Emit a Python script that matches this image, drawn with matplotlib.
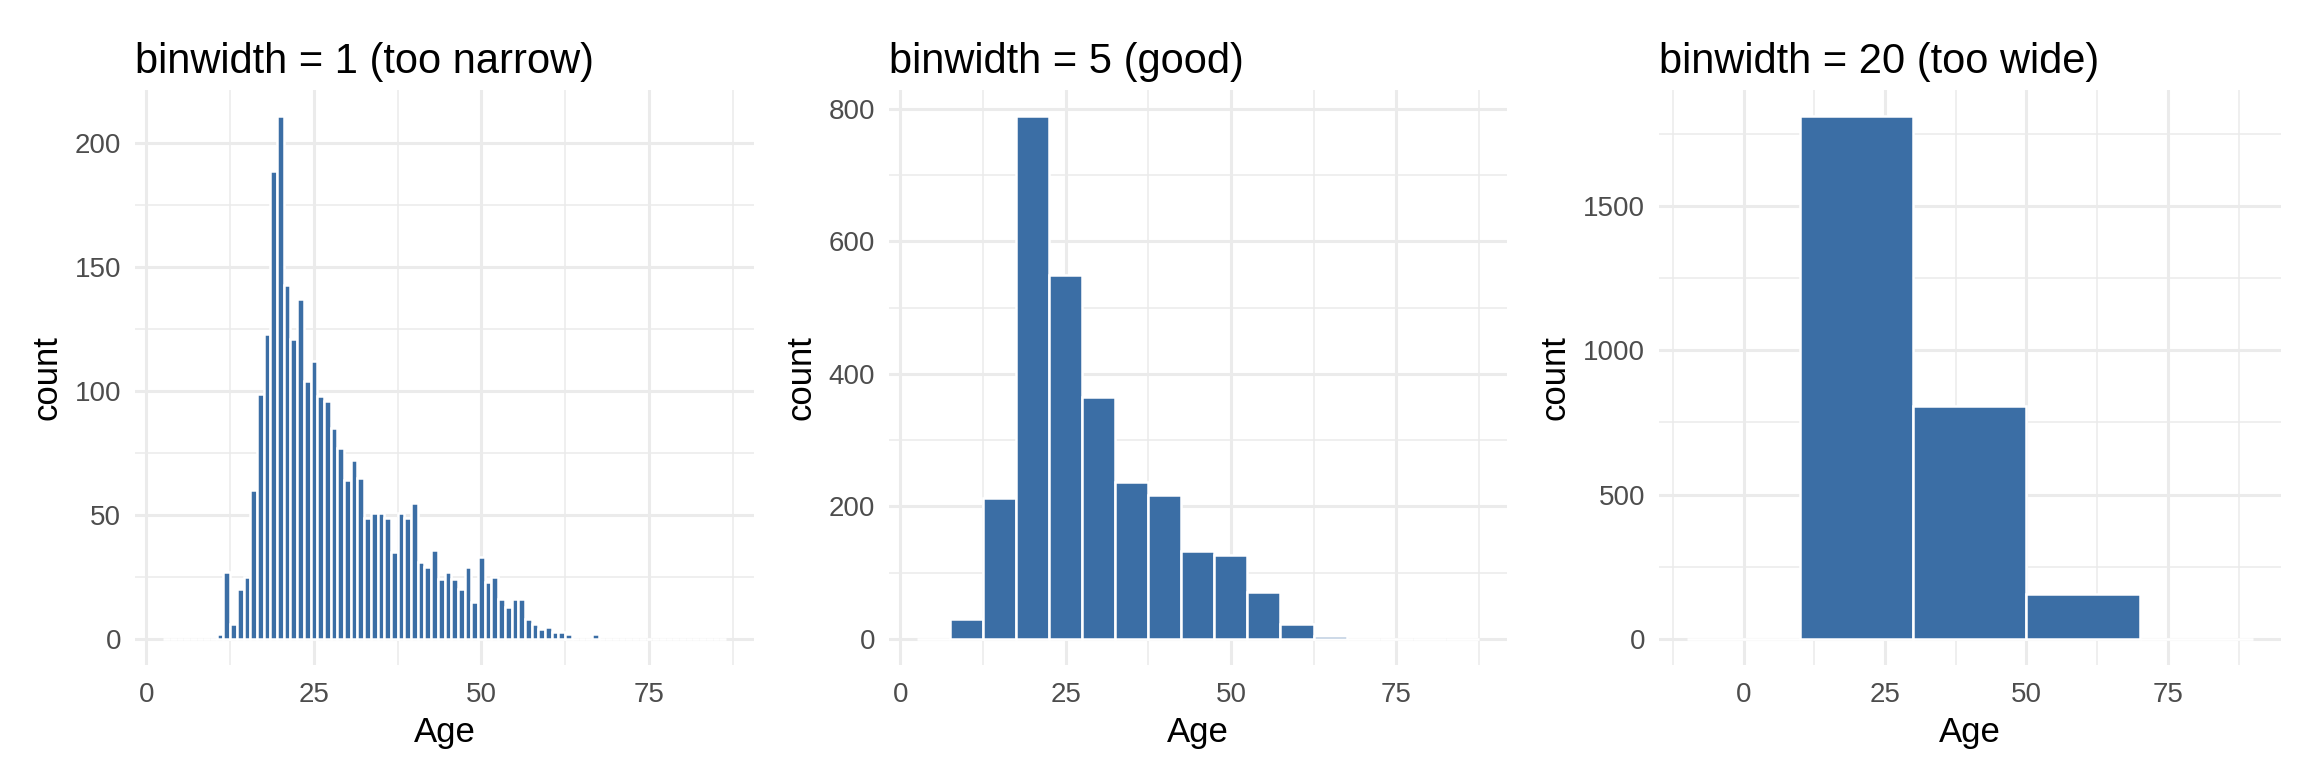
import matplotlib

matplotlib.use("Agg")

import matplotlib.pyplot as plt
import numpy as np

# Counts, one bar per bin centre.
AGES_BW1 = list(range(3, 87))
COUNTS_BW1 = [
    0, 0, 0, 0, 0, 0, 0, 0,                  # 3-10
    2, 27, 6, 20, 25, 60, 99, 123, 189, 211,  # 11-20
    143, 121, 137, 104, 112, 98, 96, 85, 77, 64,  # 21-30
    72, 65, 49, 51, 51, 49, 35, 51, 49, 55,   # 31-40
    31, 29, 36, 24, 27, 24, 20, 29, 15, 33,   # 41-50
    23, 25, 16, 13, 16, 16, 8, 6, 4, 5,       # 51-60
    3, 3, 2, 0, 0, 0, 2,                      # 61-67
    0, 0, 0, 0, 0, 0, 0, 0, 0, 0,             # 68-77
    0, 0, 0, 0, 0, 0, 0, 0, 0,                # 78-86
]

CENTRES_BW5 = [5, 10, 15, 20, 25, 30, 35, 40, 45, 50, 55, 60, 65, 70, 75, 80, 85]
COUNTS_BW5 = [0, 30, 212, 789, 549, 365, 237, 217, 133, 127, 71, 23, 5, 0, 0, 0, 0]

CENTRES_BW20 = [0, 20, 40, 60, 80]
COUNTS_BW20 = [0, 1811, 808, 154, 0]

X_TICKS = [0, 25, 50, 75]

PANELS = [
    ("binwidth = 1 (too narrow)", AGES_BW1, COUNTS_BW1, 1, [0, 50, 100, 150, 200]),
    ("binwidth = 5 (good)", CENTRES_BW5, COUNTS_BW5, 5, [0, 200, 400, 600, 800]),
    ("binwidth = 20 (too wide)", CENTRES_BW20, COUNTS_BW20, 20, [0, 500, 1000, 1500]),
]

# panel boxes in figure fractions (left, bottom, width, height)
BOXES = [
    (0.0586, 0.134, 0.2687, 0.749),
    (0.3858, 0.134, 0.2682, 0.749),
    (0.7200, 0.134, 0.2700, 0.749),
]

BAR_COLOR = "#3B6EA5"
GRID_COLOR = "#EBEBEB"

plt.rcParams["font.family"] = ["Liberation Sans", "DejaVu Sans"]

fig = plt.figure(figsize=(11.52, 3.84), dpi=200)

for box, (title, centres, counts, bw, yticks) in zip(BOXES, PANELS):
    ax = fig.add_axes(box)
    centres = np.asarray(centres, dtype=float)
    counts = np.asarray(counts, dtype=float)

    ax.bar(centres, counts, width=bw, color=BAR_COLOR, edgecolor="white",
           linewidth=0.9, zorder=3)

    ax.set_xticks(X_TICKS)
    ax.set_xticks([x + 12.5 for x in [-25] + X_TICKS], minor=True)
    ax.set_yticks(yticks)
    step = yticks[1] - yticks[0]
    ax.set_yticks([y + step / 2 for y in yticks], minor=True)

    # ggplot-style 5% expansion on both axes (after ticks, which widen limits)
    lo, hi = centres[0] - bw / 2, centres[-1] + bw / 2
    span = hi - lo
    ax.set_xlim(lo - 0.05 * span, hi + 0.05 * span)
    ymax = counts.max()
    ax.set_ylim(-0.05 * ymax, 1.05 * ymax)

    ax.grid(True, which="major", color=GRID_COLOR, lw=1.1, zorder=0)
    ax.grid(True, which="minor", color=GRID_COLOR, lw=0.55, zorder=0)
    ax.set_axisbelow(True)
    for s in ax.spines.values():
        s.set_visible(False)
    ax.tick_params(which="both", length=0)
    ax.tick_params(axis="y", pad=5, labelsize=10, labelcolor="#4D4D4D")
    ax.tick_params(axis="x", pad=6, labelsize=10, labelcolor="#4D4D4D")

    ax.set_xlabel("Age", fontsize=12.5, labelpad=3)
    ax.set_ylabel("count", fontsize=12.5, labelpad=4)
    ax.set_title(title, loc="left", fontsize=15, pad=6)

fig.savefig("out.png", dpi=200, facecolor="white")
